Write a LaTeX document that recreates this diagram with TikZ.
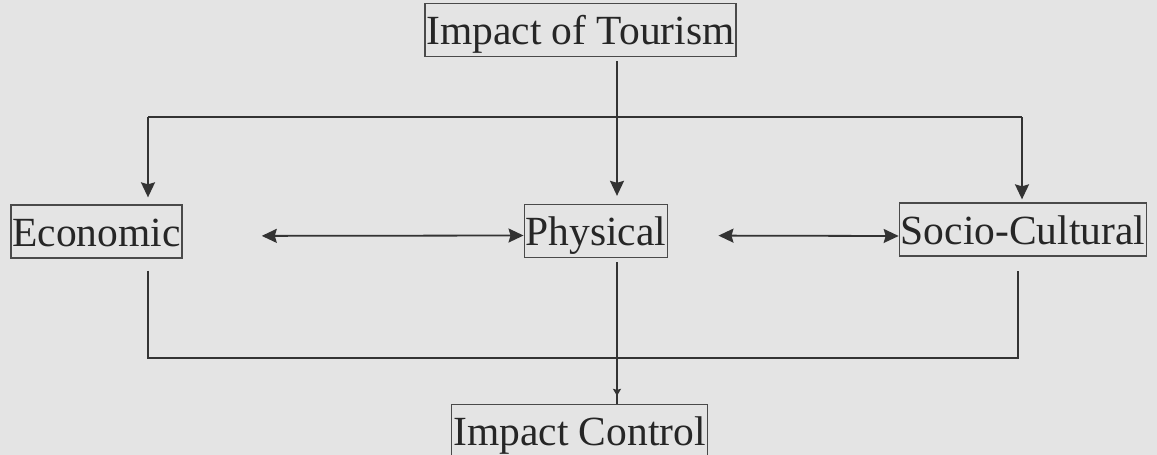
\documentclass[tikz,border=0pt]{standalone}
\usepackage{fontspec}
\setmainfont{Liberation Serif}
\usetikzlibrary{arrows.meta,positioning,calc}
\definecolor{ScanBack}{HTML}{E4E4E4}
\definecolor{InkLine}{HTML}{333333}
\definecolor{InkBox}{HTML}{4A4A4A}
\tikzset{>={Stealth[length=15pt,width=14pt,inset=2pt]},
 box/.style={draw=InkBox,line width=1.3pt,text=black!85,inner xsep=1.5pt,inner ysep=1pt,
 text height=40pt,text depth=11pt,font=\fontsize{41.5}{48}\selectfont},
 link/.style={draw=InkLine,line width=1.8pt,->},
 wire/.style={draw=InkLine,line width=1.6pt}}
\begin{document}
\begin{tikzpicture}[x=1pt,y=-1pt]
\fill[ScanBack] (0,0) rectangle (1157,455);
\useasboundingbox (0,0) rectangle (1157,455);
\node[box] (tour) at (580.5,30){Impact of Tourism};
\node[box] (econ) at (96.5,231.5){Economic};
\node[box] (phys) at (596,231){Physical};
\node[box] (socio) at (1023,229.5){Socio-Cultural};
\node[box] (ctrl) at (579.5,431){Impact Control};
\coordinate (spine) at (617,117);
\coordinate (lft) at (148,117);\coordinate (rgt) at (1022,117);
\coordinate (bl) at (148,358);\coordinate (br) at (1018,358);
% top branches
\draw[link,shorten <=4pt,shorten >=8pt] (tour.south -| spine)--(phys.north -| spine);
\draw[wire] (lft)--(rgt);
\draw[link,shorten >=7pt] (lft)--(econ.north -| lft);
\draw[link,shorten >=3pt] (rgt)--(socio.north -| rgt);
% links between impacts
\draw[link,<->,shorten <=79pt] ([yshift=-4.5pt]econ.east)--([yshift=-4.5pt]phys.west);
\draw[link,<->,shorten <=50pt] ([yshift=-4.5pt]phys.east)--([yshift=-6.5pt]socio.west);
% down to control
\draw[wire] ([yshift=-12pt]econ.south -| bl)--(bl)--(br)--([yshift=-14pt]socio.south -| br);
\draw[link,-{Stealth[length=7pt,width=8pt,inset=1pt]},shorten <=4pt,shorten >=8pt]
 (phys.south -| spine)--(ctrl.north -| spine);
\draw[wire] ([yshift=10pt]ctrl.north -| spine)--(ctrl.north -| spine);
\end{tikzpicture}
\end{document}
